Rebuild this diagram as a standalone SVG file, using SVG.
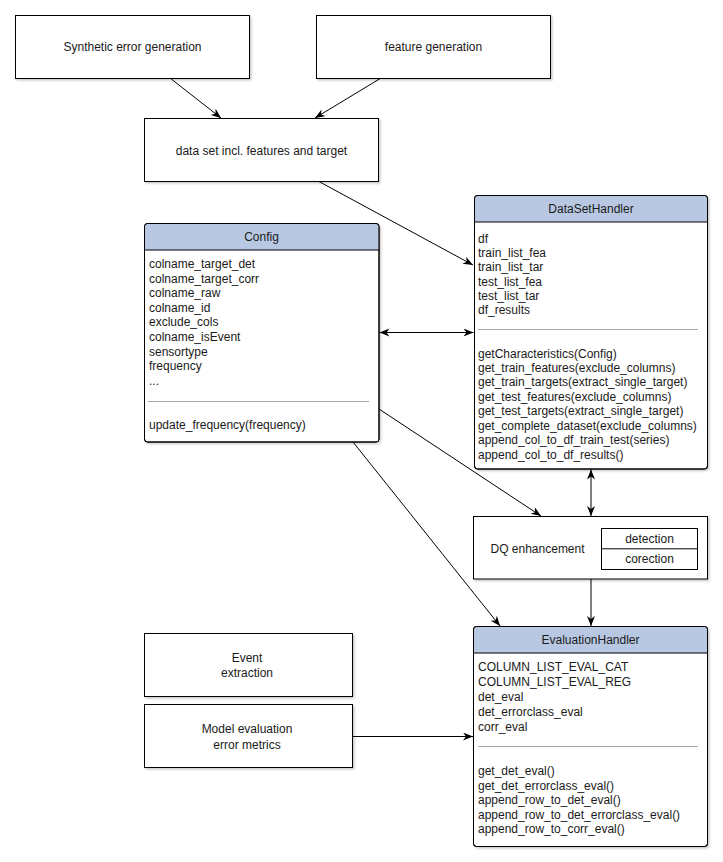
<svg xmlns="http://www.w3.org/2000/svg" width="723" height="862" viewBox="0 0 723 862">
<defs>
<filter id="sh" x="-5%" y="-5%" width="115%" height="115%">
<feDropShadow dx="1.5" dy="1.5" stdDeviation="1.2" flood-color="#000" flood-opacity="0.22"/>
</filter>
<marker id="arr" markerUnits="userSpaceOnUse" markerWidth="11" markerHeight="9" refX="10" refY="4" orient="auto-start-reverse" viewBox="0 0 11 9">
<path d="M0,0 L10,4 L0,8 L3,4 Z" fill="#000"/>
</marker>
</defs>
<style>
text{font-family:"Liberation Sans",Arial,sans-serif;font-size:12px;fill:#1a1a1a}
.c{text-anchor:middle}
.box{fill:#fff;stroke:#000;stroke-width:1}
.hdr{fill:#b8c8e3}
.sep{stroke:#a8a8a8;stroke-width:1}
.ln{stroke:#000;stroke-width:1;fill:none}
.e{marker-end:url(#arr)}
.b{marker-start:url(#arr);marker-end:url(#arr)}
</style>
<rect width="723" height="862" fill="#fff"/>

<g id="connectors">
<line class="ln e" x1="170" y1="78" x2="221" y2="118"/>
<line class="ln e" x1="381" y1="78" x2="315" y2="118"/>
<line class="ln e" x1="318" y1="181" x2="473" y2="265"/>
<line class="ln b" x1="379.5" y1="332.5" x2="473.5" y2="332.5"/>
<line class="ln e" x1="379" y1="409" x2="541" y2="516"/>
<line class="ln e" x1="353" y1="442" x2="500" y2="626"/>
<line class="ln b" x1="591" y1="469.5" x2="591" y2="516"/>
<line class="ln e" x1="591" y1="579" x2="591" y2="626"/>
<line class="ln e" x1="352" y1="736.5" x2="473" y2="736.5"/>
</g>

<g id="synthetic">
<rect class="box" x="15.5" y="15.5" width="234" height="63" filter="url(#sh)"/>
<text class="c" x="132.5" y="51">Synthetic error generation</text>
</g>

<g id="featuregen">
<rect class="box" x="316.5" y="15.5" width="234" height="63" filter="url(#sh)"/>
<text class="c" x="433.5" y="51">feature generation</text>
</g>

<g id="dataset">
<rect class="box" x="144.5" y="118.5" width="234" height="63" filter="url(#sh)"/>
<text class="c" x="261.5" y="155">data set incl. features and target</text>
</g>

<g id="config">
<rect class="box" x="144.5" y="223.5" width="234.5" height="218.5" rx="3" filter="url(#sh)"/>
<path class="hdr" d="M145,250 L145,227 Q145,224 148,224 L375.5,224 Q378.5,224 378.5,227 L378.5,250 Z"/>
<line class="ln" x1="144.5" y1="250" x2="379" y2="250"/>
<rect x="144.5" y="223.5" width="234.5" height="218.5" rx="3" fill="none" stroke="#000"/>
<text class="c" x="261.5" y="241">Config</text>
<text x="149" y="268">colname_target_det</text>
<text x="149" y="282.6">colname_target_corr</text>
<text x="149" y="297.2">colname_raw</text>
<text x="149" y="311.8">colname_id</text>
<text x="149" y="326.4">exclude_cols</text>
<text x="149" y="341">colname_isEvent</text>
<text x="149" y="355.6">sensortype</text>
<text x="149" y="370.2">frequency</text>
<text x="149" y="384.8">...</text>
<line class="sep" x1="148" y1="401.5" x2="369" y2="401.5"/>
<text x="149" y="428.5">update_frequency(frequency)</text>
</g>

<g id="datasethandler">
<rect class="box" x="474.5" y="195.5" width="233" height="273.5" rx="3" filter="url(#sh)"/>
<path class="hdr" d="M475,222 L475,199 Q475,196 478,196 L704,196 Q707,196 707,199 L707,222 Z"/>
<line class="ln" x1="474.5" y1="222" x2="707.5" y2="222"/>
<rect x="474.5" y="195.5" width="233" height="273.5" rx="3" fill="none" stroke="#000"/>
<text class="c" x="591" y="213">DataSetHandler</text>
<text x="478" y="243">df</text>
<text x="478" y="257.2">train_list_fea</text>
<text x="478" y="271.4">train_list_tar</text>
<text x="478" y="285.6">test_list_fea</text>
<text x="478" y="299.8">test_list_tar</text>
<text x="478" y="314">df_results</text>
<line class="sep" x1="478" y1="329.5" x2="698" y2="329.5"/>
<text x="478" y="357.5">getCharacteristics(Config)</text>
<text x="478" y="371.9">get_train_features(exclude_columns)</text>
<text x="478" y="386.4">get_train_targets(extract_single_target)</text>
<text x="478" y="400.8">get_test_features(exclude_columns)</text>
<text x="478" y="415.2">get_test_targets(extract_single_target)</text>
<text x="478" y="429.7">get_complete_dataset(exclude_columns)</text>
<text x="478" y="444.1">append_col_to_df_train_test(series)</text>
<text x="478" y="458.5">append_col_to_df_results()</text>
</g>

<g id="dqenhancement">
<rect class="box" x="473.5" y="516.5" width="234" height="62.5" filter="url(#sh)"/>
<text x="490.5" y="553">DQ enhancement</text>
<rect class="box" x="601.5" y="528.5" width="96" height="41"/>
<line class="ln" x1="601.5" y1="548.8" x2="697.5" y2="548.8"/>
<text class="c" x="649.5" y="542.5">detection</text>
<text class="c" x="649.5" y="563.3">corection</text>
</g>

<g id="evaluationhandler">
<rect class="box" x="473.5" y="626.5" width="234" height="220" rx="3" filter="url(#sh)"/>
<path class="hdr" d="M474,653 L474,630 Q474,627 477,627 L704,627 Q707,627 707,630 L707,653 Z"/>
<line class="ln" x1="473.5" y1="653" x2="707.5" y2="653"/>
<rect x="473.5" y="626.5" width="234" height="220" rx="3" fill="none" stroke="#000"/>
<text class="c" x="590.5" y="644">EvaluationHandler</text>
<text x="478" y="670.7">COLUMN_LIST_EVAL_CAT</text>
<text x="478" y="685.7">COLUMN_LIST_EVAL_REG</text>
<text x="478" y="700.7">det_eval</text>
<text x="478" y="715.7">det_errorclass_eval</text>
<text x="478" y="730.7">corr_eval</text>
<line class="sep" x1="478" y1="746.5" x2="698" y2="746.5"/>
<text x="478" y="775.3">get_det_eval()</text>
<text x="478" y="789.7">get_det_errorclass_eval()</text>
<text x="478" y="804.1">append_row_to_det_eval()</text>
<text x="478" y="818.5">append_row_to_det_errorclass_eval()</text>
<text x="478" y="832.9">append_row_to_corr_eval()</text>
</g>

<g id="eventextraction">
<rect class="box" x="144.5" y="633.5" width="208" height="63" filter="url(#sh)"/>
<text class="c" x="247" y="662">Event</text>
<text class="c" x="247" y="677">extraction</text>
</g>

<g id="modelevaluation">
<rect class="box" x="144.5" y="704.5" width="208" height="63" filter="url(#sh)"/>
<text class="c" x="247" y="733">Model evaluation</text>
<text class="c" x="247" y="748.5">error metrics</text>
</g>
</svg>
